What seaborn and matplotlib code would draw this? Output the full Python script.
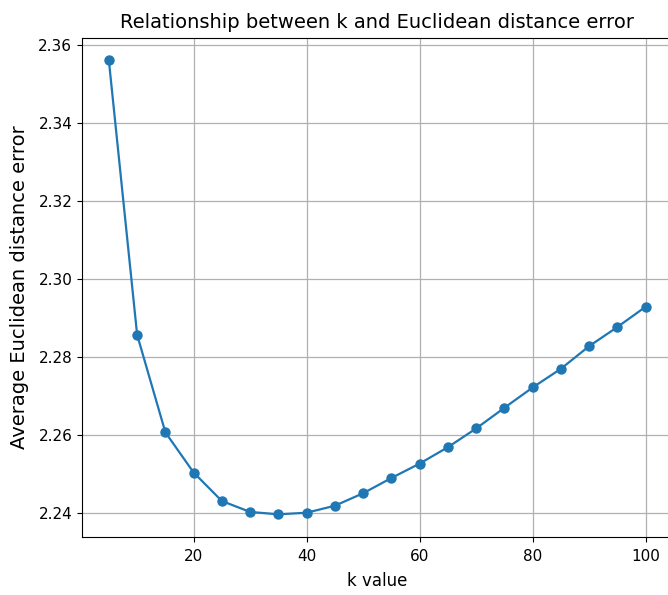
import pandas as pd
import seaborn as sns
import matplotlib.pyplot as plt

# data
k_values = [5, 10, 15, 20, 25, 30, 35, 40, 45, 50,
            55, 60, 65, 70, 75, 80, 85, 90, 95, 100]
errors = [2.3560, 2.2857, 2.2607, 2.2504, 2.2431, 2.2403, 2.2397, 2.2401, 2.2419, 2.2451,
          2.2490, 2.2527, 2.2569, 2.2617, 2.2670, 2.2722, 2.2770, 2.2828, 2.2877, 2.2929]

df = pd.DataFrame({"k": k_values, "error": errors})

plt.rcParams['font.family'] = ['DejaVu Sans']
fig = plt.figure(figsize=(6.68, 5.95), dpi=100)
ax = fig.add_axes([0.1228, 0.0975, 0.884, 0.839])

sns.lineplot(data=df, x="k", y="error", marker="o", markersize=7.5,
             markeredgewidth=0, color="#1f77b4", linewidth=1.6, ax=ax)

ax.set_title("Relationship between k and Euclidean distance error", fontsize=14, pad=7)
ax.set_xlabel("k value", fontsize=12, labelpad=6)
ax.set_ylabel("Average Euclidean distance error", fontsize=14, labelpad=7)
ax.tick_params(labelsize=11)
ax.tick_params(axis="x", pad=5)
ax.set_xticks([20, 40, 60, 80, 100])
ax.set_yticks([2.24, 2.26, 2.28, 2.30, 2.32, 2.34, 2.36])
ax.grid(True, color="#b0b0b0", linewidth=0.9)
ax.spines['right'].set_visible(False)

fig.savefig("out.png", dpi=100)
plt.close()
